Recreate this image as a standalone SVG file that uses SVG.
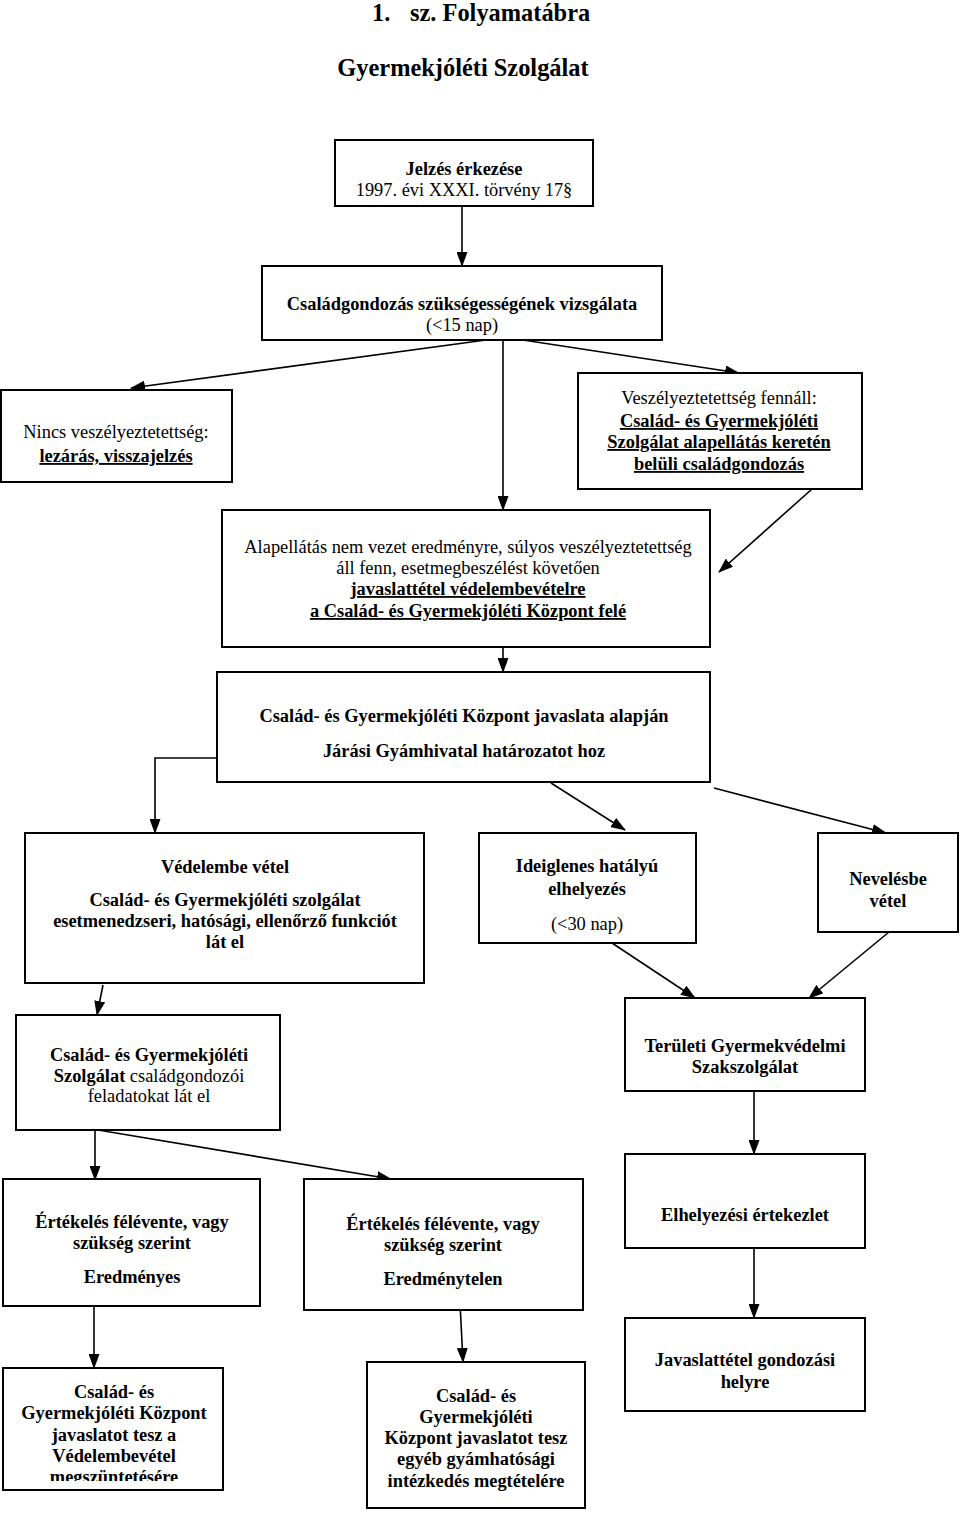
<svg xmlns="http://www.w3.org/2000/svg" width="960" height="1513" viewBox="0 0 960 1513">
<style>
rect.b{fill:#fff;stroke:#000;stroke-width:2}
text{font-family:"Liberation Serif","Times New Roman",serif;font-size:18.4px;fill:#000;text-anchor:middle}
.bd{font-weight:bold}
.u{text-decoration:underline}
.t{font-size:24.4px;font-weight:bold}
.c line,.c polyline{stroke:#000;stroke-width:1.6;fill:none;marker-end:url(#ah)}
</style>
<defs>
<marker id="ah" markerUnits="userSpaceOnUse" markerWidth="15" markerHeight="11" refX="14" refY="5.5" orient="auto">
<path d="M0,0 L15,5.5 L0,11 Z" fill="#000"/>
</marker>
<clipPath id="clip1"><rect x="0" y="1360" width="240" height="121"/></clipPath>
</defs>
<rect width="960" height="1513" fill="#fff"/>
<g id="title">
<text class="t" x="372" y="21" style="text-anchor:start">1.</text>
<text class="t" x="410" y="21" style="text-anchor:start">sz. Folyamatábra</text>
<text class="t" x="463" y="76">Gyermekjóléti Szolgálat</text>
</g>
<g class="c" id="connectors">
<line x1="462" y1="206" x2="462" y2="266"/>
<line x1="486" y1="340" x2="131" y2="388"/>
<line x1="503" y1="340" x2="503" y2="510"/>
<line x1="523" y1="340" x2="739" y2="373"/>
<line x1="812" y1="489" x2="719" y2="572"/>
<line x1="503" y1="647" x2="503" y2="672"/>
<polyline points="217,758 155,758 155,833"/>
<line x1="551" y1="783" x2="625" y2="830"/>
<line x1="714" y1="788" x2="886" y2="833"/>
<line x1="612" y1="943" x2="695" y2="998"/>
<line x1="889" y1="932" x2="809" y2="998"/>
<line x1="103" y1="985" x2="97" y2="1015"/>
<line x1="95" y1="1130" x2="95" y2="1180"/>
<line x1="98" y1="1130" x2="391" y2="1179"/>
<line x1="754" y1="1091" x2="754" y2="1154"/>
<line x1="94" y1="1303" x2="94" y2="1368"/>
<line x1="460" y1="1303" x2="463" y2="1362"/>
<line x1="754" y1="1248" x2="754" y2="1318"/>
</g>
<g id="n1"><rect class="b" x="335" y="140" width="258" height="66"/>
<text class="bd" x="464" y="175">Jelzés érkezése</text>
<text x="464" y="196">1997. évi XXXI. törvény 17§</text></g>
<g id="n2"><rect class="b" x="262" y="266" width="400" height="74"/>
<text class="bd" x="462" y="310">Családgondozás szükségességének vizsgálata</text>
<text x="462" y="331">(&lt;15 nap)</text></g>
<g id="n3"><rect class="b" x="1" y="390" width="231" height="92"/>
<text x="116" y="438">Nincs veszélyeztetettség:</text>
<text class="bd u" x="116" y="462">lezárás, visszajelzés</text></g>
<g id="n4"><rect class="b" x="578" y="373" width="284" height="116"/>
<text x="719" y="404">Veszélyeztetettség fennáll:</text>
<text class="bd u" x="719" y="427">Család- és Gyermekjóléti</text>
<text class="bd u" x="719" y="448">Szolgálat alapellátás keretén</text>
<text class="bd u" x="719" y="470">belüli családgondozás</text></g>
<g id="n5"><rect class="b" x="222" y="510" width="488" height="137"/>
<text x="468" y="553">Alapellátás nem vezet eredményre, súlyos veszélyeztetettség</text>
<text x="468" y="574">áll fenn, esetmegbeszélést követően</text>
<text class="bd u" x="468" y="595">javaslattétel védelembevételre</text>
<text class="bd u" x="468" y="617">a Család- és Gyermekjóléti Központ felé</text></g>
<g id="n6"><rect class="b" x="217" y="672" width="493" height="110"/>
<text class="bd" x="464" y="722">Család- és Gyermekjóléti Központ javaslata alapján</text>
<text class="bd" x="464" y="757">Járási Gyámhivatal határozatot hoz</text></g>
<g id="n7"><rect class="b" x="25" y="833" width="399" height="150"/>
<text class="bd" x="225" y="873">Védelembe vétel</text>
<text class="bd" x="225" y="906">Család- és Gyermekjóléti szolgálat</text>
<text class="bd" x="225" y="927">esetmenedzseri, hatósági, ellenőrző funkciót</text>
<text class="bd" x="225" y="948">lát el</text></g>
<g id="n8"><rect class="b" x="479" y="833" width="217" height="110"/>
<text class="bd" x="587" y="872">Ideiglenes hatályú</text>
<text class="bd" x="587" y="895">elhelyezés</text>
<text x="587" y="930">(&lt;30 nap)</text></g>
<g id="n9"><rect class="b" x="818" y="833" width="140" height="99"/>
<text class="bd" x="888" y="885">Nevelésbe</text>
<text class="bd" x="888" y="907">vétel</text></g>
<g id="n10"><rect class="b" x="16" y="1015" width="264" height="115"/>
<text class="bd" x="149" y="1061">Család- és Gyermekjóléti</text>
<text x="149" y="1082"><tspan class="bd">Szolgálat</tspan> családgondozói</text>
<text x="149" y="1102">feladatokat lát el</text></g>
<g id="n11"><rect class="b" x="625" y="998" width="240" height="93"/>
<text class="bd" x="745" y="1052">Területi Gyermekvédelmi</text>
<text class="bd" x="745" y="1073">Szakszolgálat</text></g>
<g id="n12"><rect class="b" x="3" y="1179" width="257" height="127"/>
<text class="bd" x="132" y="1228">Értékelés félévente, vagy</text>
<text class="bd" x="132" y="1249">szükség szerint</text>
<text class="bd" x="132" y="1283">Eredményes</text></g>
<g id="n13"><rect class="b" x="304" y="1179" width="279" height="131"/>
<text class="bd" x="443" y="1230">Értékelés félévente, vagy</text>
<text class="bd" x="443" y="1251">szükség szerint</text>
<text class="bd" x="443" y="1285">Eredménytelen</text></g>
<g id="n14"><rect class="b" x="625" y="1154" width="240" height="94"/>
<text class="bd" x="745" y="1221">Elhelyezési értekezlet</text></g>
<g id="n15"><rect class="b" x="3" y="1368" width="220" height="122"/>
<g clip-path="url(#clip1)">
<text class="bd" x="114" y="1398">Család- és</text>
<text class="bd" x="114" y="1419">Gyermekjóléti Központ</text>
<text class="bd" x="114" y="1441">javaslatot tesz a</text>
<text class="bd" x="114" y="1462">Védelembevétel</text>
<text class="bd" x="114" y="1483">megszüntetésére</text></g></g>
<g id="n16"><rect class="b" x="367" y="1362" width="218" height="146"/>
<text class="bd" x="476" y="1402">Család- és</text>
<text class="bd" x="476" y="1423">Gyermekjóléti</text>
<text class="bd" x="476" y="1444">Központ javaslatot tesz</text>
<text class="bd" x="476" y="1465">egyéb gyámhatósági</text>
<text class="bd" x="476" y="1487">intézkedés megtételére</text></g>
<g id="n17"><rect class="b" x="625" y="1318" width="240" height="93"/>
<text class="bd" x="745" y="1366">Javaslattétel gondozási</text>
<text class="bd" x="745" y="1388">helyre</text></g>
</svg>
